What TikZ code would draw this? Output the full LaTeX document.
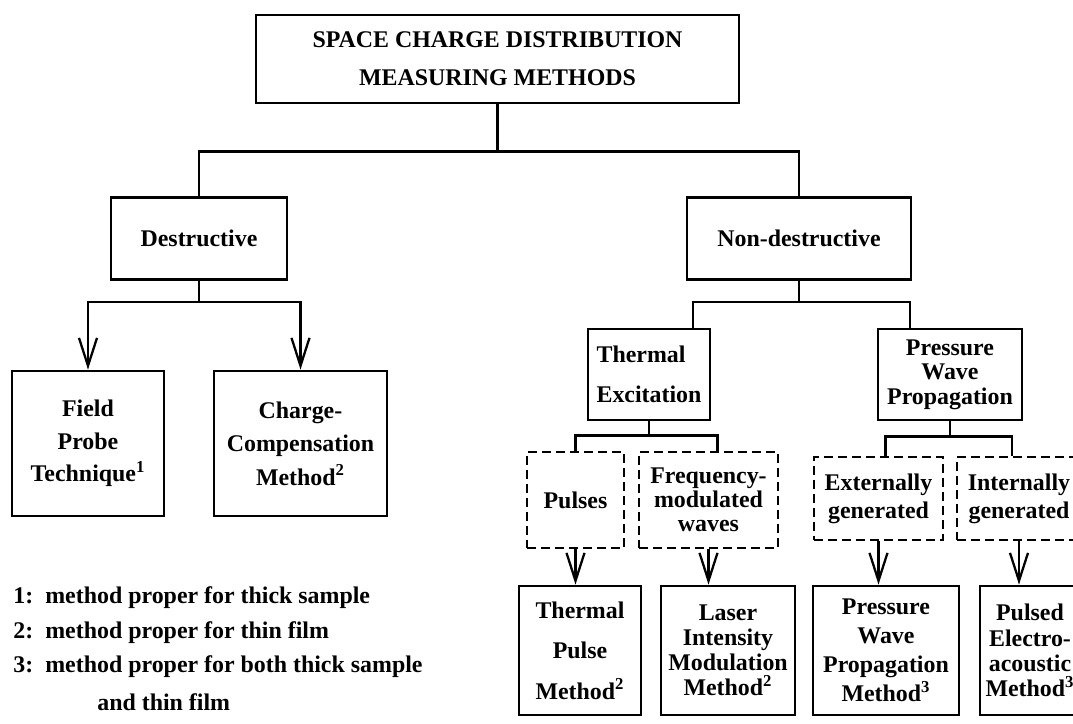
\documentclass[tikz,border=0pt]{standalone}
\usepackage{fontspec}
\setmainfont{Liberation Serif}
\usetikzlibrary{arrows.meta, positioning, calc}
\tikzset{
    block/.style={rectangle, draw=black, line width=1.6pt, inner sep=0pt, align=center},
    dblock/.style={block, dash pattern=on 0.18cm off 0.1cm},
    leading/.style={font=\fontsize{13.6pt}{#1}\selectfont\bfseries},
    note/.style={inner sep=0pt, font=\fontsize{13.6pt}{16pt}\selectfont\bfseries},
    link/.style={line width=1.3pt},
    arrow/.style={link, -{Straight Barb[length=0.56cm, width=0.36cm, line width=1.3pt]}},
}

\begin{document}
\begin{tikzpicture}[x=0.02cm, y=-0.02cm]
    \useasboundingbox (0,0) rectangle (1073,724);
    \clip (0,0) rectangle (1073,724);

    % root and first split
    \node[block, leading=21.6pt, minimum width=9.66cm, minimum height=1.76cm] (scdm) at (497.5,59) {SPACE CHARGE DISTRIBUTION\\MEASURING METHODS};
    \node[block, leading=18pt, minimum width=3.52cm, minimum height=1.64cm] (destr) at (199,238.5) {Destructive};
    \node[block, leading=18pt, minimum width=4.48cm, minimum height=1.64cm] (nondestr) at (799,238.5) {Non-destructive};

    % destructive methods
    \node[block, leading=18.5pt, minimum width=3.04cm, minimum height=2.9cm] (field) at (88,443.5) {Field\\Probe\\Technique\textsuperscript{1}};
    \node[block, leading=19pt, minimum width=3.46cm, minimum height=2.9cm] (charge) at (300.5,443.5) {Charge-\\Compensation\\Method\textsuperscript{2}};

    % non-destructive branches
    \node[block, leading=22.8pt, align=left, minimum width=2.44cm, minimum height=1.82cm] (thermal) at (649,374.5) {Thermal\\Excitation};
    \node[block, leading=14pt, minimum width=2.88cm, minimum height=1.82cm] (pressure) at (950,374.5) {Pressure\\Wave\\Propagation};

    \node[dblock, leading=18pt, minimum width=1.94cm, minimum height=1.92cm] (pulses) at (575.5,500) {Pulses};
    \node[dblock, leading=13.7pt, minimum width=2.78cm, minimum height=1.92cm] (freq) at (708.5,500) {Frequency-\\modulated\\waves};
    \node[dblock, leading=16pt, minimum width=2.58cm, minimum height=1.66cm] (extgen) at (878.5,498.5) {Externally\\generated};
    \node[dblock, leading=16pt, minimum width=2.48cm, minimum height=1.66cm] (intgen) at (1019,498.5) {Internally\\generated};

    % resulting methods
    \node[block, leading=23pt, minimum width=2.44cm, minimum height=2.58cm] (tpulse) at (580,650.5) {Thermal\\Pulse\\Method\textsuperscript{2}};
    \node[block, leading=14.3pt, minimum width=2.68cm, minimum height=2.58cm] (limm) at (728,650.5) {Laser\\Intensity\\Modulation\\Method\textsuperscript{2}};
    \node[block, leading=16.5pt, minimum width=2.92cm, minimum height=2.58cm] (pwpm) at (886,650.5) {Pressure\\Wave\\Propagation\\Method\textsuperscript{3}};
    \node[block, leading=14.3pt, minimum width=2cm, minimum height=2.58cm] (pea) at (1030,650.5) {Pulsed\\Electro-\\acoustic\\Method\textsuperscript{3}};

    % footnotes
    \node[note, anchor=west] (key1) at (13,598) {\makebox[0.64cm][l]{1:}method proper for thick sample};
    \node[note, anchor=west] (key2) at (13,633) {\makebox[0.64cm][l]{2:}method proper for thin film};
    \node[note, anchor=west] (key3) at (13,667) {\makebox[0.64cm][l]{3:}method proper for both thick sample};
    \node[note, anchor=west] (key4) at (97,702) {and thin film};

    % connectors
    \draw[link] (scdm.south) -- ++(0,47) coordinate (j0);
    \draw[link] (destr.north) |- (j0) -| (nondestr.north);

    \draw[link] (destr.south) -- ++(0,21) coordinate (j1);
    \draw[arrow] (j1) -| (field.north);
    \draw[arrow] (j1) -| (charge.north);

    \draw[link] (nondestr.south) -- ++(0,21) coordinate (j2);
    \draw[link] (j2) -| ($(thermal.north)+(44,0)$);
    \draw[link] (j2) -| ($(pressure.north)+(-40,0)$);

    \draw[link] (thermal.south) -- ++(0,14) coordinate (j3);
    \draw[link] (j3) -| (pulses.north);
    \draw[link] (j3) -| ($(freq.north)+(9,0)$);

    \draw[link] (pressure.south) -- ++(0,15) coordinate (j4);
    \draw[link] (j4) -| ($(extgen.north)+(7,0)$);
    \draw[link] (j4) -| ($(intgen.north)+(-7,0)$);

    \draw[arrow] (pulses.south) -- (pulses.south |- tpulse.north);
    \draw[arrow] (freq.south) -- (freq.south |- limm.north);
    \draw[arrow] (extgen.south) -- (extgen.south |- pwpm.north);
    \draw[arrow] (intgen.south) -- (intgen.south |- pea.north);
\end{tikzpicture}
\end{document}
